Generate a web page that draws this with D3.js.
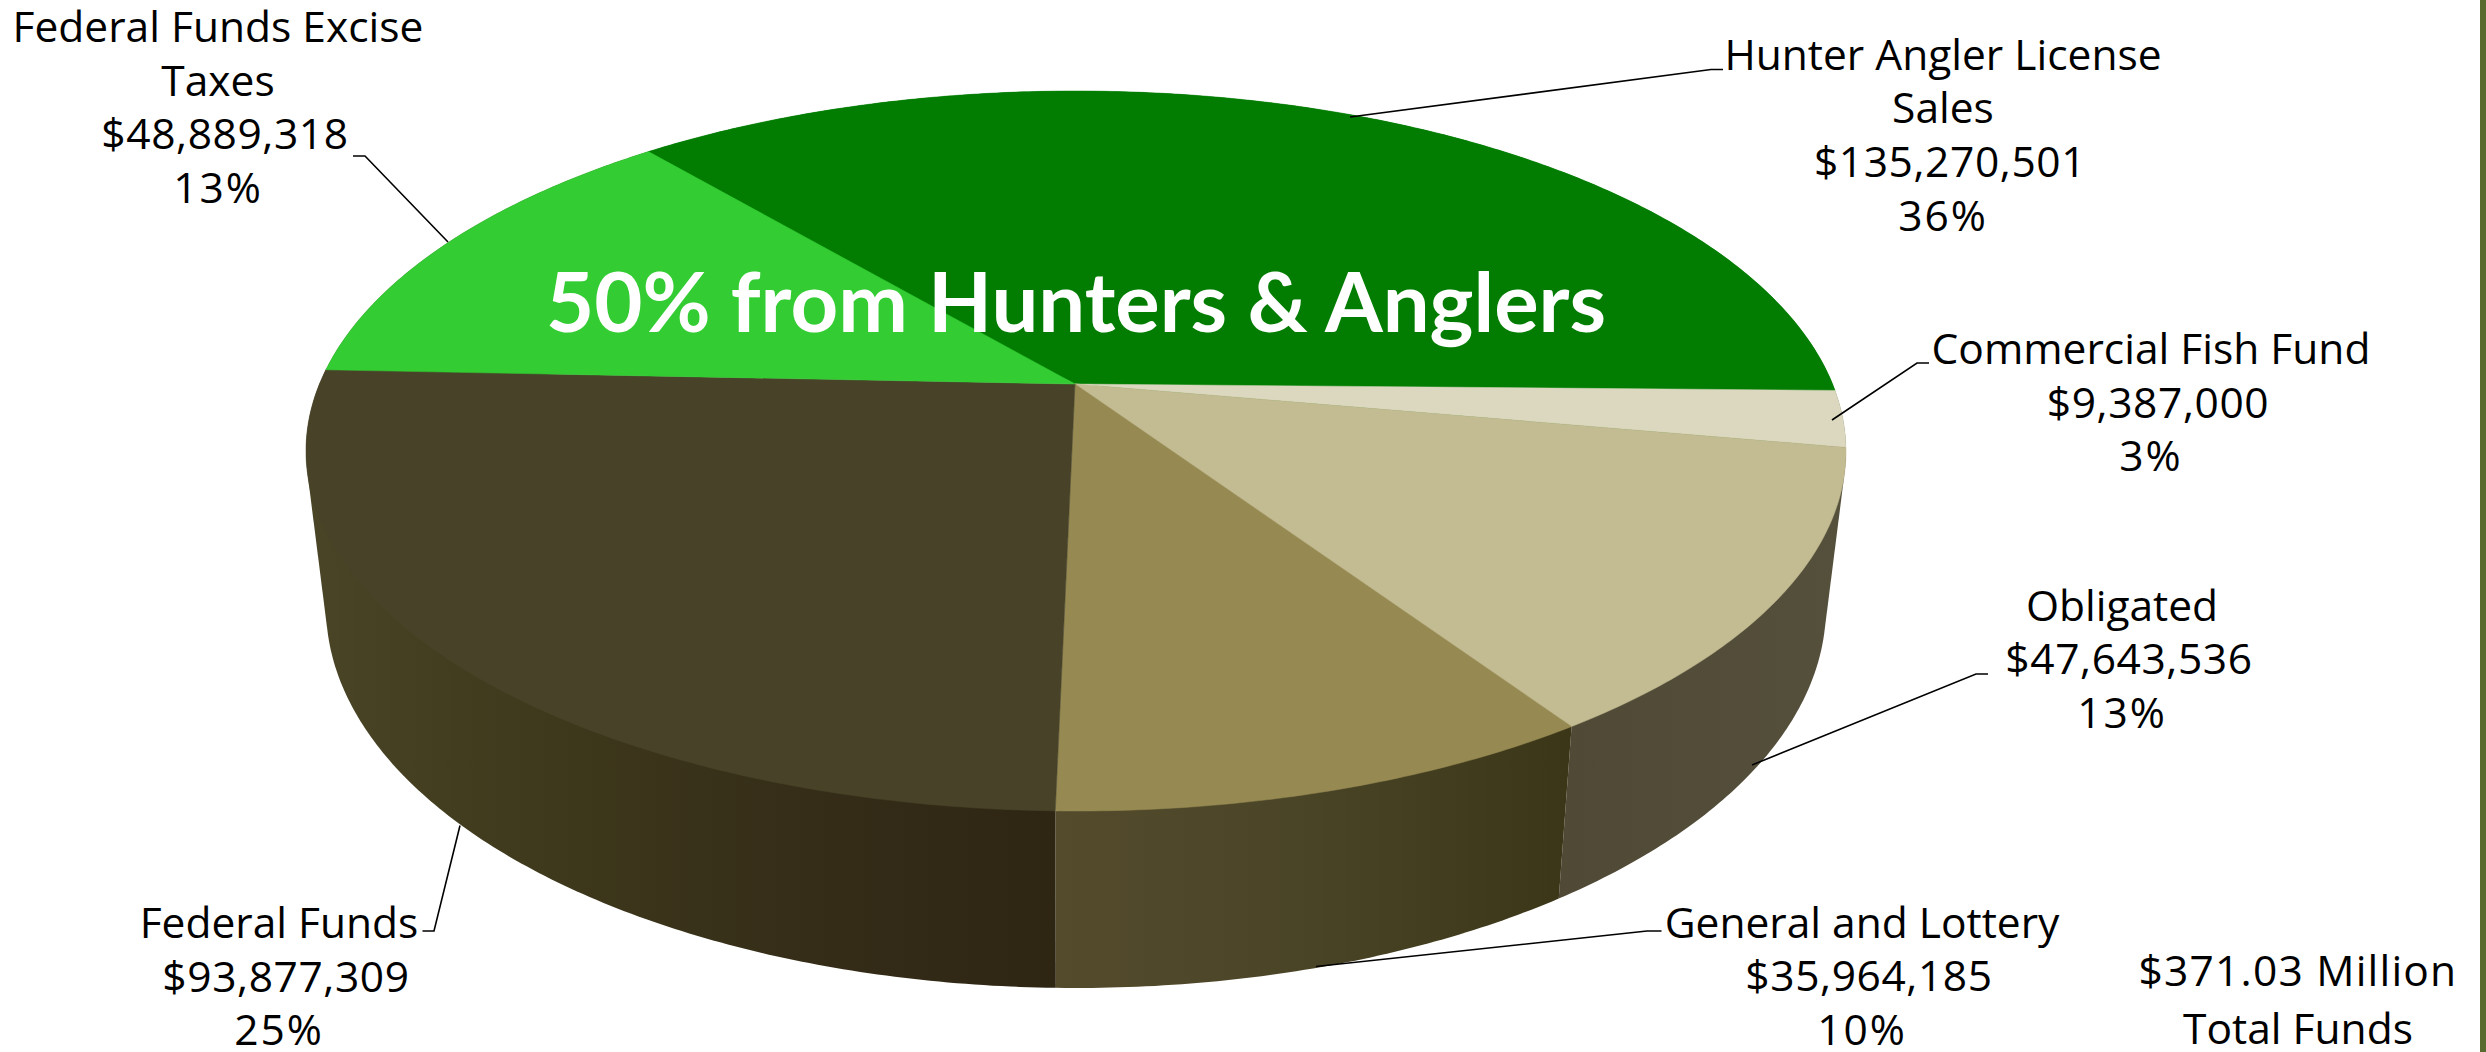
<!DOCTYPE html>
<html>
<head>
<meta charset="utf-8">
<script src="https://cdn.jsdelivr.net/npm/d3@7/dist/d3.min.js"></script>
<style>
html,body{margin:0;padding:0;background:#fff;overflow:hidden}
svg{display:block}
text{font-family:"Open Sans",sans-serif;fill:#000}
</style>
</head>
<body>
<svg id="c" width="2486" height="1052"></svg>
<script>
// ---- data ----
const categories = ["Hunter Angler License Sales","Commercial Fish Fund","Obligated","General and Lottery","Federal Funds","Federal Funds Excise Taxes"];
const values = [135270501,9387000,47643536,35964185,93877309,48889318];
const percents = ["36%","3%","13%","10%","25%","13%"];
const totalLines = ["$371.03 Million","Total Funds"];
const headline = "50% from Hunters & Anglers";

// ---- style ----
const topColors = ["#027d02","#dbd8bf","#c3bb91","#968a52","#484328","#33cc33"];
const sideStops = [
  ["#027d02","#027d02"],
  ["#514b37","#514b37"],
  ["#55503c","#4f4936"],
  ["#544b2c","#4a4427","#3c3618"],
  ["#4a4526","#3e381c","#352d18","#2e2613"],
  ["#484328","#484328"]
];

// ---- layout of labels: wrapped name lines, centre x, first baseline, leader line ----
const labelLayout = [
  {name:["Hunter Angler License","Sales"], x:1943, y:69.5, leader:[[1723,69.5],[1711,69.5],[1350,117]]},
  {name:["Commercial Fish Fund"], x:2151, y:364, leader:[[1929,363],[1917,363],[1832,420]]},
  {name:["Obligated"], x:2122, y:620.5, leader:[[1988,674],[1976,674],[1752,765]]},
  {name:["General and Lottery"], x:1862, y:937.5, leader:[[1661.5,931],[1647,931],[1316,966.5]]},
  {name:["Federal Funds"], x:279, y:938, leader:[[422.5,931],[434,931],[460,825.5]]},
  {name:["Federal Funds Excise","Taxes"], x:218, y:42, leader:[[353,156],[365,156],[448,242]]}
];
const lineGap = 53.7;
const fontSize = 42.5;
const moneyNudge = 7;

const svg = d3.select("#c");
const defs = svg.append("defs");

// Ellipse scales: normalised disc coordinates -> page pixels
const topX = d3.scaleLinear().domain([-1,1]).range([306,1846]);
const topY = d3.scaleLinear().domain([-1,1]).range([91,811]);
const botX = d3.scaleLinear().domain([-1,1]).range([326,1826]);
const botY = d3.scaleLinear().domain([-1,1]).range([226,988]);

// Perspective: the disc centre is seen above the ellipse centre.
const persp = 0.186;
function project(a){
  const x = Math.sin(a), y = -Math.cos(a);
  const k = 1 - persp*y;
  return [x*Math.sqrt(1-persp*persp)/k, (y-persp)/k];
}
const pie = d3.pie().sort(null).startAngle(-40.2*Math.PI/180).endAngle((360-40.2)*Math.PI/180);
const arcs = pie(values);
const line = d3.line();

function rim(d){
  const n = Math.max(2, Math.ceil((d.endAngle-d.startAngle)/0.01));
  return d3.range(n+1).map(i=>project(d.startAngle+(d.endAngle-d.startAngle)*i/n));
}

// sides: each wall is the hull of its upper and lower rim; the top face covers the rest
arcs.forEach((d,i)=>{
  const r = rim(d);
  const top = r.map(p=>[topX(p[0]),topY(p[1])]);
  const bot = r.map(p=>[botX(p[0]),botY(p[1])]);
  const hull = d3.polygonHull(top.concat(bot));
  const xs = hull.map(p=>p[0]);
  const id = "side"+i;
  const g = defs.append("linearGradient").attr("id",id).attr("gradientUnits","userSpaceOnUse")
    .attr("x1",i===2?d3.max(xs):d3.min(xs)).attr("x2",i===2?d3.min(xs):d3.max(xs)).attr("y1",0).attr("y2",0);
  sideStops[i].forEach((c,j,a)=>g.append("stop").attr("offset",j/(a.length-1)).attr("stop-color",c));
  svg.append("path").attr("d",line(hull)+"Z").attr("fill",`url(#${id})`);
});

// top faces
const apex = [topX(0)-1,topY(-persp)];
arcs.forEach((d,i)=>{
  const pts = rim(d).map(p=>[topX(p[0]),topY(p[1])]);
  svg.append("path").attr("d",line([apex].concat(pts))+"Z").attr("fill",topColors[i]).attr("stroke",topColors[i]).attr("stroke-width",0.5);
});

// leaders and labels
const money = d3.format("$,");
labelLayout.forEach((l,i)=>{
  svg.append("path").attr("d",line(l.leader)).attr("fill","none").attr("stroke","#000").attr("stroke-width",1.6);
  const n = l.name.length;
  l.name.concat([money(values[i]),percents[i]]).forEach((t,j)=>{
    svg.append("text")
      .attr("x",l.x+(j===n?moneyNudge:0)).attr("y",l.y+j*lineGap)
      .attr("text-anchor","middle").attr("font-size",fontSize)
      .style("letter-spacing",j===n?"0.6px":j===n+1?"2px":null)
      .text(t);
  });
});

// total
totalLines.forEach((t,j)=>{
  svg.append("text").attr("x",2298).attr("y",986+j*58).attr("text-anchor","middle").attr("font-size",fontSize)
    .style("letter-spacing",j===0?"1.2px":null).text(t);
});

// headline
svg.append("text").attr("x",1076).attr("y",332).attr("text-anchor","middle")
  .attr("font-size",83.2).attr("font-weight",700).style("font-family","Lato,sans-serif").style("fill","#fff").text(headline);

// right border strip
svg.append("rect").attr("x",2480).attr("y",0).attr("width",6).attr("height",1052).attr("fill","#566b2d");
</script>
</body>
</html>
